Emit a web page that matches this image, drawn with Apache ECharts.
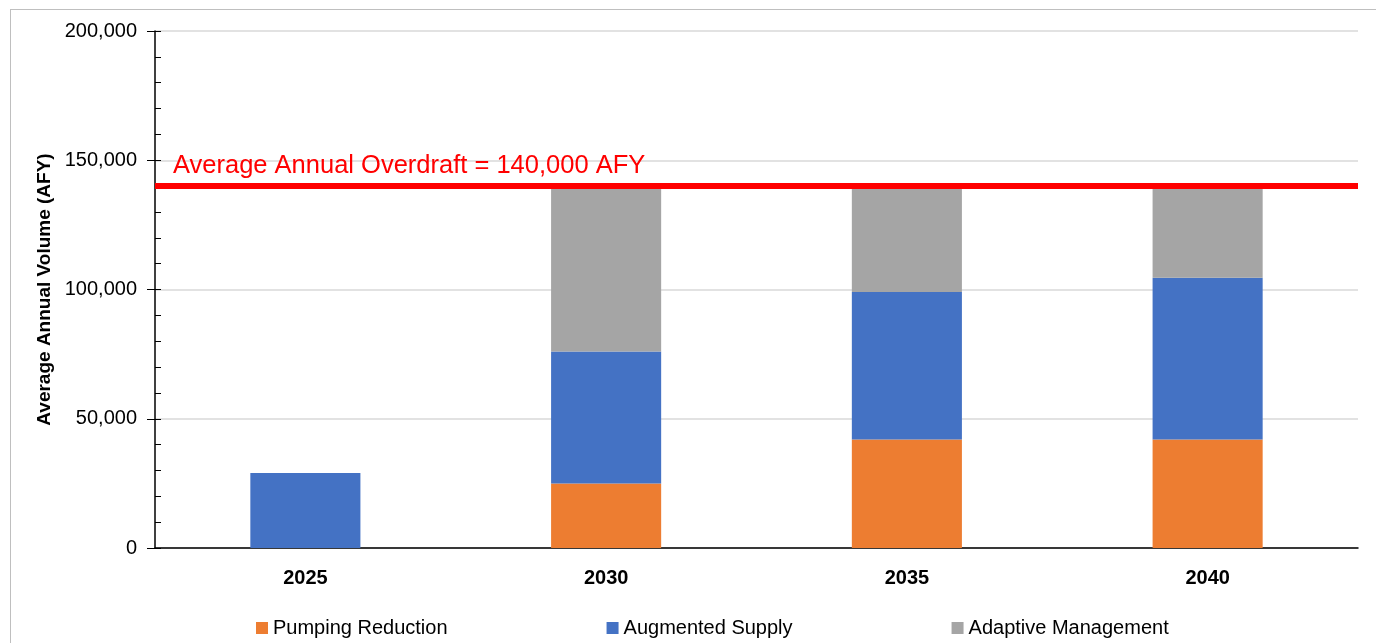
<!DOCTYPE html>
<html>
<head>
    <meta charset="utf-8">
    <title>Overdraft chart</title>
    <script src="https://cdn.jsdelivr.net/npm/echarts@6/dist/echarts.min.js"></script>
    <style type="text/css">
        body{ margin:0; background:#fff; }
        #main{ position:absolute; left:0; top:0; width:1376px; height:643px; }
        #frame{ position:absolute; left:10px; top:9px; width:1400px; height:700px;
                border:1px solid #bfbfbf; pointer-events:none; }
    </style>
</head>
<body>
<div id="main"></div>
<div id="frame"></div>

<script type="text/javascript">
    // data
    var years = ['2025', '2030', '2035', '2040'];
    var pumping = [0, 25000, 42000, 42000];
    var augmented = [29000, 51000, 57000, 62500];
    var adaptive = [0, 64000, 41000, 35500];
    var overdraft = 140000;
    var yTicks = [0, 50000, 100000, 150000, 200000];

    var font = 'Liberation Sans';

    var myChart = echarts.init(document.getElementById('main'));
    myChart.setOption({
        animation: false,
        textStyle: { fontFamily: font },
        grid: { left: 155, right: 18, top: 31, bottom: 95 },
        legend: {
            data: ['Pumping Reduction', 'Augmented Supply', 'Adaptive Management'],
            left: 251,
            top: 613,
            itemWidth: 12,
            itemHeight: 12,
            itemGap: 159,
            icon: 'rect',
            textStyle: { fontSize: 20, color: '#000', fontFamily: font }
        },
        xAxis: {
            type: 'category',
            data: years,
            axisLine: { lineStyle: { color: '#000', width: 1.5 } },
            axisTick: { show: false },
            axisLabel: { fontSize: 20, fontWeight: 'bold', color: '#000', margin: 20 }
        },
        yAxis: [{
            type: 'value',
            min: yTicks[0],
            max: yTicks[yTicks.length - 1],
            interval: 50000,
            name: 'Average Annual Volume (AFY)',
            nameLocation: 'middle',
            nameGap: 99,
            nameTextStyle: { fontSize: 19, fontWeight: 'bold', color: '#000' },
            axisLine: { show: true, lineStyle: { color: '#000', width: 1.5 } },
            axisTick: { show: true, length: 8, lineStyle: { color: '#000' } },
            axisLabel: {
                fontSize: 20, color: '#000', margin: 18,
                formatter: function (v) { return v.toLocaleString('en-US'); }
            },
            splitLine: { lineStyle: { color: '#d9d9d9', width: 1.5 } }
        }, {
            type: 'value',
            position: 'left',
            min: 0,
            max: 200000,
            interval: 10000,
            axisLine: { show: false },
            axisTick: { show: true, inside: true, length: 6, lineStyle: { color: '#000' } },
            axisLabel: { show: false },
            splitLine: { show: false }
        }],
        series: [{
            name: 'Pumping Reduction',
            type: 'bar',
            stack: 'total',
            barWidth: '36.6%',
            itemStyle: { color: '#ED7D31' },
            data: pumping
        }, {
            name: 'Augmented Supply',
            type: 'bar',
            stack: 'total',
            itemStyle: { color: '#4472C4' },
            data: augmented
        }, {
            name: 'Adaptive Management',
            type: 'bar',
            stack: 'total',
            itemStyle: { color: '#A5A5A5' },
            data: adaptive,
            markLine: {
                silent: true,
                symbol: 'none',
                lineStyle: { color: '#FF0000', width: 6, type: 'solid' },
                label: {
                    show: true,
                    position: 'insideStartTop',
                    formatter: 'Average Annual Overdraft = ' + overdraft.toLocaleString('en-US') + ' AFY',
                    color: '#FF0000',
                    fontSize: 25.5,
                    distance: [18, 7]
                },
                data: [{ yAxis: overdraft }]
            }
        }]
    });
</script>
</body>
</html>
